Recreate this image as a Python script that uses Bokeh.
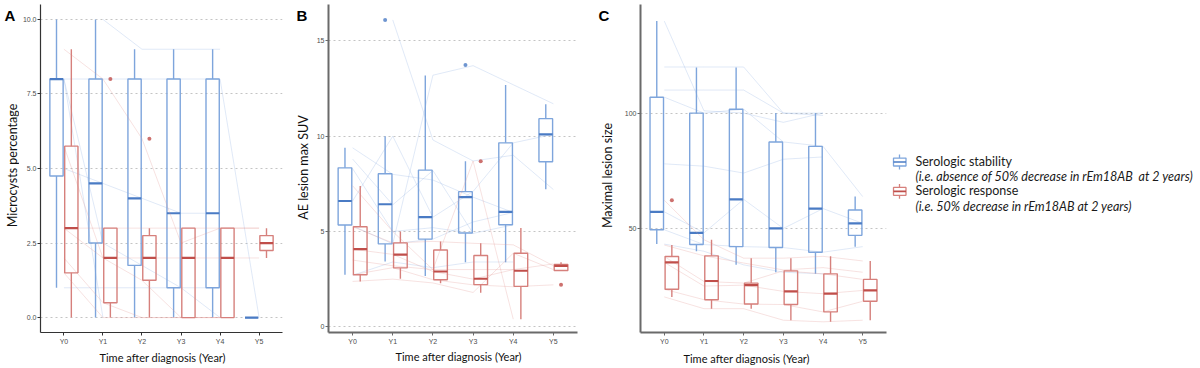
import numpy as np
from bokeh.plotting import figure
from bokeh.layouts import row
from bokeh.models import Range1d, FixedTicker, Label, PrintfTickFormatter, Title
from bokeh.embed import file_html
from bokeh.resources import INLINE

nan = float("nan")
years = ["Y0", "Y1", "Y2", "Y3", "Y4", "Y5"]
group_labels = ["Serologic stability", "Serologic response"]
group_notes = ["(i.e. absence of 50% decrease in rEm18AB\u00a0 at 2 years)",
               "(i.e. 50% decrease in rEm18AB at 2 years)"]
x_title = "Time after diagnosis (Year)"

# ---------------- Panel A : Microcysts percentage ----------------
a_stab_low = [1, 0, 0, 0, 0, 0]
a_stab_q1 = [4.75, 2.5, 1.75, 1, 1, 0]
a_stab_med = [8, 4.5, 4, 3.5, 3.5, 0]
a_stab_q3 = [8, 8, 8, 8, 8, 0]
a_stab_high = [10, 10, 9, 9, 9, 0]
a_resp_low = [0, 0, 0, 0, 0, 2]
a_resp_q1 = [1.5, 0.5, 1.25, 0, 0, 2.25]
a_resp_med = [3, 2, 2, 2, 2, 2.5]
a_resp_q3 = [5.75, 3, 2.75, 3, 3, 2.75]
a_resp_high = [9, 3, 3, 3, 3, 3]
a_stab_out_year = []
a_stab_out_val = []
a_resp_out_year = ["Y1", "Y2"]
a_resp_out_val = [8, 6]
a_stab_traj = [
    [nan, 10, 9, 9, 9, nan],
    [8, 8, 8, 8, 8, 0],
    [8, 0, nan, nan, nan, nan],
    [8, 2.5, 1.75, 1, 0, nan],
    [1, 1, 1, 1, 1, nan],
    [5, 4.5, 4, 3.5, 3.5, nan],
]
a_resp_traj = [
    [9, 8, 6, 2.5, 3, 3],
    [3, 3, 3, 3, 3, 3],
    [3, 2, 2, 2, 2, 2],
    [5.75, 2, 1.25, 0, 0, nan],
    [2, 0.5, 0, 0, 0, nan],
    [1.5, 0, 0, 0, 0, nan],
]

# ---------------- Panel B : AE lesion max SUV ----------------
b_stab_low = [2.73, 3.42, 2.66, 3.39, 3.39, 7.21]
b_stab_q1 = [5.34, 4.35, 4.6, 4.92, 5.35, 8.66]
b_stab_med = [6.6, 6.43, 5.75, 6.8, 6.03, 10.1]
b_stab_q3 = [8.34, 8.03, 8.22, 7.09, 9.65, 10.92]
b_stab_high = [9.39, 10.0, 13.18, 8.69, 12.69, 11.68]
b_resp_low = [2.38, 2.52, 2.29, 1.79, 0.4, 2.95]
b_resp_q1 = [2.73, 3.09, 2.47, 2.21, 2.12, 2.95]
b_resp_med = [4.07, 3.79, 2.9, 2.52, 2.94, 3.2]
b_resp_q3 = [5.25, 4.4, 4.03, 3.74, 3.86, 3.27]
b_resp_high = [7.39, 5.0, 4.48, 4.38, 5.18, 3.39]
b_stab_out_year = ["Y1", "Y3"]
b_stab_out_val = [16.1, 13.73]
b_resp_out_year = ["Y3", "Y5"]
b_resp_out_val = [8.69, 2.21]
b_stab_traj = [
    [nan, 16.1, 9.8, 8.7, 9.0, 7.2],
    [nan, 4.35, 13.2, 13.7, 12.7, 11.7],
    [9.39, 8.0, 7.7, 6.8, 6.0, nan],
    [8.3, 5.0, 5.2, 4.9, 5.35, nan],
    [6.6, 10.0, 5.75, 7.1, 9.65, 10.1],
    [5.3, 4.35, 4.6, 5.5, 6.0, nan],
    [2.7, 3.4, 3.1, 3.4, 3.4, nan],
    [8.8, 6.4, 8.2, 4.9, nan, nan],
]
b_resp_traj = [
    [7.4, 5.0, 3.0, 8.7, 0.4, nan],
    [5.25, 4.4, 4.48, 4.38, 4.3, 3.2],
    [4.07, 3.8, 2.9, 2.5, 3.0, 3.3],
    [2.73, 3.1, 2.47, 2.2, 2.1, 2.2],
    [2.38, 2.5, 2.3, 1.8, 3.86, 3.0],
    [3.5, 3.2, 3.0, 3.0, 3.0, nan],
]

# ---------------- Panel C : Maximal lesion size ----------------
c_stab_low = [43.2, 40.1, 34.2, 31.0, 30.3, 42.1]
c_stab_q1 = [49.4, 43.0, 42.1, 41.7, 39.7, 47.0]
c_stab_med = [57.2, 48.1, 62.6, 50.0, 58.6, 52.2]
c_stab_q3 = [106.9, 100.0, 101.7, 87.5, 85.6, 58.0]
c_stab_high = [139.9, 119.8, 119.8, 100.0, 100.0, 63.8]
c_resp_low = [20.3, 15.2, 15.2, 10.2, 9.5, 10.2]
c_resp_q1 = [23.6, 19.1, 17.2, 17.0, 13.8, 18.4]
c_resp_med = [35.3, 27.2, 25.4, 22.7, 21.7, 23.1]
c_resp_q3 = [37.8, 38.1, 26.3, 31.6, 30.3, 27.9]
c_resp_high = [42.8, 45.1, 37.1, 37.1, 37.9, 35.9]
c_stab_out_year = []
c_stab_out_val = []
c_resp_out_year = ["Y0"]
c_resp_out_val = [62.2]
c_stab_traj = [
    [139.9, 101, 100, 96, 100, nan],
    [120, 120, 120, 100, 99, nan],
    [110, 110, 110, 100, 100, nan],
    [106.9, 100, 101.7, 87.5, 85.6, 63.8],
    [78, 77, 74, 80, 81, nan],
    [57.2, 48.1, 62.6, 50, 58.6, 52.2],
    [49.4, 43, 42.1, 41.7, 39.7, 42.1],
    [43.2, 40.1, 34.2, 31, 30.3, nan],
]
c_resp_traj = [
    [62.2, 45.1, 37.1, 37.1, 37.9, 35.9],
    [42.8, 38.1, 35, 32, 33, 31],
    [37.8, 27, 26.3, 31.6, 30.3, 27.9],
    [35.3, 25, 25.4, 22.7, 21.7, 23.1],
    [23.6, 19.1, 17.2, 17, 13.8, 18.4],
    [20.3, 15.2, 15.2, 10.2, 9.5, 10.2],
]

# ---------------- styling ----------------
BLUE_LINE = "#7ea5dc"
BLUE_MED = "#4a7bc4"
BLUE_TRAJ = "#8fb0e3"
RED_LINE = "#d6807c"
RED_MED = "#c04e4a"
RED_TRAJ = "#e39893"
FONT = "Lato"
TICK_FONT = "Liberation Sans"
H = 368
TOP = 4       # frame top (px) shared by all figures of the row
BOT = 334     # frame bottom (px) shared by all figures of the row


def blank_fig(left, right):
    """Axis-free figure whose data coordinates equal page pixels."""
    f = figure(width=right - left, height=H, output_backend="svg", toolbar_location=None,
               x_range=Range1d(left, right), y_range=Range1d(BOT, TOP),
               x_axis_type=None, y_axis_type=None,
               min_border=0, min_border_left=0, min_border_right=0,
               min_border_top=TOP, min_border_bottom=H - BOT)
    f.grid.visible = False
    f.outline_line_color = None
    return f


def strip(left, right, letter, lx, ly, ylabel, ylx, yly):
    f = blank_fig(left, right)
    f.add_layout(Label(x=lx, y=ly, text=letter, text_align="left", text_baseline="alphabetic",
                       text_font="Liberation Sans", text_font_style="bold",
                       text_font_size="15px", text_color="#000000"))
    f.add_layout(Label(x=ylx, y=yly, text=ylabel, angle=np.pi / 2, text_align="center",
                       text_baseline="middle", text_font=FONT, text_font_size="12.5px",
                       text_color="#111111"))
    return f


def draw_group(p, xs, low, q1, med, q3, high, out_year, out_val, traj,
               line_col, med_col, traj_col, off, w):
    pos = xs + off
    for t in traj:
        p.line(xs, t, line_color=traj_col, line_alpha=0.28, line_width=1)
    p.segment(x0=pos, y0=q3, x1=pos, y1=high, line_color=line_col, line_width=1.4)
    p.segment(x0=pos, y0=q1, x1=pos, y1=low, line_color=line_col, line_width=1.4)
    p.quad(left=pos - w / 2, right=pos + w / 2, bottom=q1, top=q3,
           fill_color=None, line_color=line_col, line_width=1.4)
    p.segment(x0=pos - w / 2, y0=med, x1=pos + w / 2, y1=med,
              line_color=med_col, line_width=2.2)
    if out_year:
        ox = np.array([years.index(y) + 1.0 for y in out_year]) + off
        p.scatter(ox, out_val, size=4, fill_color=med_col, line_color=None, alpha=0.8)


def make_panel(g, ticks, fmt, stab, resp, axis_col, axis_w):
    fw = g["right"] - g["left"]
    p = figure(width=fw, height=H, output_backend="svg", toolbar_location=None,
               x_range=Range1d(0.4, 6.6), y_range=Range1d(g["y0"], g["y1"]),
               min_border_left=g["fl"] - g["left"], min_border_right=g["right"] - g["fr"],
               min_border_top=TOP, min_border_bottom=H - BOT)
    p.outline_line_color = None
    p.background_fill_color = "white"
    p.border_fill_color = None
    xs = np.arange(len(years)) + 1.0

    p.xgrid.visible = False
    p.ygrid.ticker = FixedTicker(ticks=ticks)
    p.ygrid.grid_line_color = "#c4c4c4"
    p.ygrid.grid_line_dash = "2 3"
    p.ygrid.grid_line_width = 1

    draw_group(p, xs, *stab, BLUE_LINE, BLUE_MED, BLUE_TRAJ, -0.19, 0.34)
    draw_group(p, xs, *resp, RED_LINE, RED_MED, RED_TRAJ, 0.19, 0.34)

    p.xaxis.ticker = FixedTicker(ticks=list(xs))
    p.xaxis.major_label_overrides = {int(i + 1): y for i, y in enumerate(years)}
    p.yaxis.ticker = FixedTicker(ticks=ticks)
    if fmt:
        p.yaxis.formatter = PrintfTickFormatter(format=fmt)
    for ax in (p.xaxis, p.yaxis):
        ax.axis_line_color = axis_col
        ax.axis_line_width = axis_w
        ax.major_tick_line_color = axis_col
        ax.major_tick_out = 3
        ax.major_tick_in = 0
        ax.minor_tick_line_color = None
        ax.major_label_text_font = TICK_FONT
        ax.major_label_text_font_size = "7px"
        ax.major_label_text_color = "#4d4d4d"
    p.xaxis.major_label_standoff = 2
    p.yaxis.major_label_standoff = 1

    p.add_layout(Title(text=x_title, align="left", offset=g["xt_off"], standoff=g["xt_so"],
                       vertical_align="middle", text_font=FONT, text_font_size="11px",
                       text_font_style="normal", text_color="#111111"), "below")
    return p


gA = dict(left=19, right=290, fl=37, fr=282, y0=-0.5, y1=10.5, xt_off=59, xt_so=4)
gB = dict(left=312, right=580, fl=328, fr=577, y0=-0.30, y1=16.91, xt_off=67, xt_so=3)
gC = dict(left=618, right=888, fl=640, fr=886, y0=4.87, y1=147.1, xt_off=43, xt_so=6)

sA = strip(0, 19, "A", 4, 15.5, "Microcysts percentage", 12, 166)
pA = make_panel(gA, [0, 2.5, 5, 7.5, 10], "%.1f",
                (a_stab_low, a_stab_q1, a_stab_med, a_stab_q3, a_stab_high,
                 a_stab_out_year, a_stab_out_val, a_stab_traj),
                (a_resp_low, a_resp_q1, a_resp_med, a_resp_q3, a_resp_high,
                 a_resp_out_year, a_resp_out_val, a_resp_traj), "#333333", 1.2)
sB = strip(290, 312, "B", 296, 15.5, "AE lesion max SUV", 302.5, 168)
pB = make_panel(gB, [0, 5, 10, 15], None,
                (b_stab_low, b_stab_q1, b_stab_med, b_stab_q3, b_stab_high,
                 b_stab_out_year, b_stab_out_val, b_stab_traj),
                (b_resp_low, b_resp_q1, b_resp_med, b_resp_q3, b_resp_high,
                 b_resp_out_year, b_resp_out_val, b_resp_traj), "#6a6a6a", 2)
sC = strip(580, 618, "C", 598, 15.5, "Maximal lesion size", 607, 176)
pC = make_panel(gC, [50, 100], None,
                (c_stab_low, c_stab_q1, c_stab_med, c_stab_q3, c_stab_high,
                 c_stab_out_year, c_stab_out_val, c_stab_traj),
                (c_resp_low, c_resp_q1, c_resp_med, c_resp_q3, c_resp_high,
                 c_resp_out_year, c_resp_out_val, c_resp_traj), "#6a6a6a", 2)

# ---------------- legend panel ----------------
pL = blank_fig(888, 1200)
for i, (lc, mc) in enumerate([(BLUE_LINE, BLUE_MED), (RED_LINE, RED_MED)]):
    cy = 162.5 + 29.5 * i
    pL.segment(x0=[899, 899], y0=[cy - 7.5, cy + 4], x1=[899, 899], y1=[cy - 4, cy + 7.5],
               line_color=lc, line_width=1.3)
    pL.quad(left=[893], right=[905.5], top=[cy - 4], bottom=[cy + 4], fill_color=None,
            line_color=lc, line_width=1.3)
    pL.segment(x0=[893], y0=[cy], x1=[905.5], y1=[cy], line_color=mc, line_width=1.6)
    pL.add_layout(Label(x=915, y=cy - 1, text=group_labels[i], text_align="left",
                        text_baseline="middle", text_font=FONT, text_font_size="12.5px",
                        text_color="#1a1a1a"))
    pL.add_layout(Label(x=915, y=cy + 15, text=group_notes[i], text_align="left",
                        text_baseline="middle", text_font=FONT, text_font_style="italic",
                        text_font_size="12.5px", text_color="#1a1a1a"))

layout = row(sA, pA, sB, pB, sC, pC, pL)
html = file_html(layout, INLINE, title="chart")
html = html.replace("</head>", "<style>html,body{margin:0 !important;padding:0 !important;}</style></head>", 1)
open("out.html", "w").write(html)
